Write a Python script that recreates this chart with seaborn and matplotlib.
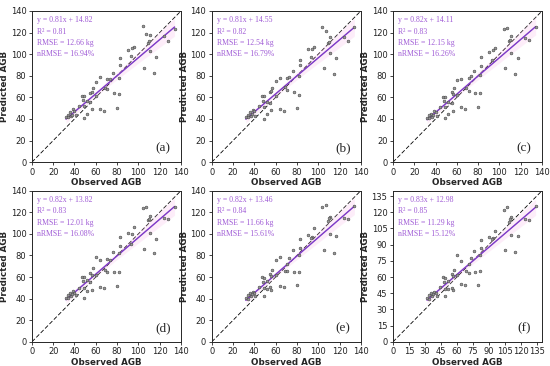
import numpy as np
import pandas as pd
import matplotlib
matplotlib.use("Agg")
import matplotlib.pyplot as plt
import seaborn as sns

# observed AGB (same for every model)
observed = [104, 107, 111, 124, 128, 134, 109, 110, 96, 94, 90, 93, 117, 111, 105,
            115, 83, 83, 76, 71, 73, 82, 64, 60, 57, 55, 56, 69, 71, 77,
            82, 47, 49, 48, 60, 52, 55, 44, 49, 64, 68, 80, 56, 49, 52,
            39, 40, 36, 34, 37, 38, 32, 34, 41]

pred_a = [126, 119, 118, 117, 112, 123, 110, 112, 107, 106, 104, 98, 97, 103, 87,
          83, 96, 90, 83, 77, 77, 78, 79, 74, 69, 64, 65, 69, 68, 64,
          63, 61, 61, 58, 61, 57, 56, 52, 52, 49, 47, 50, 49, 41, 45,
          49, 47, 46, 44, 43, 44, 42, 42, 44]
pred_b = [125, 121, 116, 116, 112, 125, 110, 111, 107, 105, 105, 97, 96, 101, 87,
          82, 95, 90, 84, 78, 79, 80, 78, 75, 69, 65, 66, 70, 67, 65,
          62, 61, 61, 57, 61, 56, 55, 52, 51, 49, 47, 50, 48, 40, 45,
          48, 47, 46, 44, 43, 45, 42, 42, 43]
pred_c = [123, 124, 117, 115, 113, 125, 112, 113, 106, 104, 102, 95, 96, 101, 87,
          82, 97, 89, 84, 78, 80, 81, 77, 76, 69, 65, 63, 69, 66, 64,
          64, 60, 60, 57, 62, 56, 55, 51, 51, 51, 49, 51, 47, 41, 45,
          47, 46, 45, 44, 42, 44, 41, 41, 43]
pred_d = [124, 125, 117, 115, 114, 125, 113, 114, 106, 100, 101, 91, 95, 101, 86,
          82, 97, 89, 83, 77, 76, 82, 76, 79, 68, 64, 62, 67, 65, 65,
          65, 60, 60, 56, 62, 57, 55, 50, 50, 51, 50, 52, 48, 41, 47,
          47, 45, 45, 43, 42, 44, 41, 41, 43]
pred_e = [125, 127, 116, 115, 114, 126, 112, 115, 105, 97, 99, 96, 98, 100, 85,
          82, 95, 87, 85, 72, 78, 80, 79, 76, 67, 63, 61, 66, 66, 65,
          65, 60, 59, 55, 62, 56, 51, 51, 50, 52, 51, 53, 48, 42, 49,
          46, 45, 45, 43, 42, 44, 41, 40, 42]
pred_f = [122, 125, 116, 114, 113, 126, 111, 114, 103, 96, 97, 95, 98, 99, 85,
          83, 94, 87, 84, 72, 78, 80, 75, 80, 67, 63, 61, 66, 64, 65,
          66, 60, 59, 55, 62, 56, 50, 51, 49, 54, 53, 53, 48, 42, 49,
          46, 45, 45, 43, 42, 44, 41, 40, 42]

predictions = [pred_a, pred_b, pred_c, pred_d, pred_e, pred_f]
panel_labels = ["(a)", "(b)", "(c)", "(d)", "(e)", "(f)"]
equations = ["y = 0.81x + 14.82", "y = 0.81x + 14.55", "y = 0.82x + 14.11",
             "y = 0.82x + 13.82", "y = 0.82x + 13.46", "y = 0.83x + 12.98"]
r2_values = ["0.81", "0.82", "0.83", "0.83", "0.84", "0.85"]
rmse_values = ["12.66", "12.54", "12.15", "12.01", "11.66", "11.29"]
nrmse_values = ["16.94%", "16.79%", "16.26%", "16.08%", "15.61%", "15.12%"]
ticks_default = [0, 20, 40, 60, 80, 100, 120, 140]
ticks_f = [0, 15, 30, 45, 60, 75, 90, 105, 120, 135]

sns.set_style("ticks")
plt.rcParams['font.family'] = ['DejaVu Sans']

fig = plt.figure(figsize=(5.5, 3.66), dpi=100)
lefts = [0.058, 0.385, 0.7145]
bottoms = [0.557, 0.066]
w, h = 0.271, 0.413

txt_color = "#a05cd6"
serif = ["Liberation Serif", "DejaVu Serif"]

for i, pred in enumerate(predictions):
    ax = fig.add_axes([lefts[i % 3], bottoms[i // 3], w, h])
    df = pd.DataFrame({"obs": observed, "pred": pred})

    ax.plot([0, 140], [0, 140], ls="--", color="black", lw=0.6, dashes=(5, 2.5), zorder=1)
    sns.regplot(data=df, x="obs", y="pred", ax=ax, scatter=False, ci=95,
                color="#f48ad8", line_kws={"lw": 0.6}, truncate=True)
    sns.regplot(data=df, x="obs", y="pred", ax=ax, scatter=False, ci=None,
                color="#7a3cc8", line_kws={"lw": 1.0}, truncate=True)
    sns.scatterplot(data=df, x="obs", y="pred", ax=ax, s=4, color="#999999",
                    edgecolor="#444444", linewidth=0.4, zorder=3)

    ax.set_xlim(0, 140)
    ax.set_ylim(0, 140)
    ticks = ticks_f if i == 5 else ticks_default
    ax.set_xticks(ticks)
    ax.set_yticks(ticks)
    ax.tick_params(labelsize=6, length=2.5, width=0.6, pad=1.5, colors="#222222")
    for sp in ax.spines.values():
        sp.set_linewidth(0.7)
        sp.set_visible(True)
    ax.set_xlabel("Observed AGB", fontsize=6.3, fontweight="bold", labelpad=1)
    ax.set_ylabel("Predicted AGB", fontsize=6.3, fontweight="bold", labelpad=1)

    lines = [equations[i], "R\u00b2 = " + r2_values[i],
             "RMSE = " + rmse_values[i] + " kg", "nRMSE = " + nrmse_values[i]]
    for k, line in enumerate(lines):
        ax.text(0.035, 0.965 - 0.075 * k, line, transform=ax.transAxes, va="top", ha="left",
                fontsize=5.6, color=txt_color, family=serif)
    ax.text(0.88, 0.09, panel_labels[i], transform=ax.transAxes, ha="center", va="center",
            fontsize=9.5, family=serif)

fig.savefig("out.png", dpi=100)
